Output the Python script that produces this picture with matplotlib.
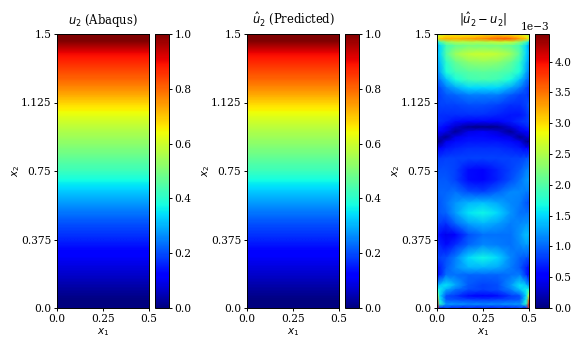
import numpy as np
import matplotlib
matplotlib.use("Agg")
import matplotlib.pyplot as plt
from matplotlib.ticker import ScalarFormatter

plt.rcParams['font.family'] = 'DejaVu Serif'
plt.rcParams['mathtext.fontset'] = 'dejavusans'

titles = [r'$u_2$ (Abaqus)', r'$\hat{u}_2$ (Predicted)', r'$|\hat{u}_2 - u_2|$']
x_ticks = [0.0, 0.25, 0.5]
x_tick_labels = ['0.0', '0.25', '0.5']
y_ticks = [0.0, 0.375, 0.75, 1.125, 1.5]
y_tick_labels = ['0.0', '0.375', '0.75', '1.125', '1.5']
cbar_ticks_u = [0.0, 0.2, 0.4, 0.6, 0.8, 1.0]
cbar_ticks_err = [0, 0.5e-3, 1e-3, 1.5e-3, 2e-3, 2.5e-3, 3e-3, 3.5e-3, 4e-3]
err_vmax = 4.45e-3

# u2 read along x2 at steps of 0.075 from 0.0 to 1.5 (no x1 variation visible)
u2_abaqus = [0.0, 0.03, 0.065, 0.095, 0.13, 0.17, 0.205, 0.25, 0.30, 0.355, 0.42,
             0.47, 0.515, 0.56, 0.61, 0.67, 0.74, 0.80, 0.85, 0.90, 1.0]
u2_predicted = [0.0, 0.03, 0.065, 0.095, 0.13, 0.17, 0.205, 0.25, 0.30, 0.355, 0.42,
                0.47, 0.515, 0.56, 0.61, 0.67, 0.74, 0.80, 0.85, 0.90, 1.0]

err_x1 = [0, .015, .05, .1, .17, .25, .33, .4, .45, .485, .5]
err_x2 = [1.5, 1.49, 1.473, 1.455, 1.435, 1.39, 1.345, 1.29, 1.25, 1.205, 1.165,
          1.11, 1.055, 1.02, .99, .965, .935, .91, .875, .82, .755, .70, .635,
          .575, .52, .46, .40, .345, .275, .22, .18, .125, .10, .065, .045, .02, 0.0]
# absolute error, units of 1e-3; rows follow err_x2, columns follow err_x1
err_rows = [
    [1.0, 1.2, 1.4, 1.5, 1.6, 1.6, 1.6, 1.5, 1.4, 1.2, 1.0],
    [2.5, 2.8, 3.0, 3.0, 3.0, 3.1, 3.2, 3.1, 3.0, 2.8, 2.5],
    [2.8, 3.1, 3.2, 3.2, 3.3, 3.4, 3.6, 3.6, 3.3, 3.1, 2.8],
    [1.5, 1.9, 2.3, 2.5, 2.5, 2.5, 2.6, 2.6, 2.3, 1.9, 1.5],
    [1.2, 1.5, 1.9, 2.1, 2.2, 2.2, 2.2, 2.1, 1.9, 1.5, 1.2],
    [1.3, 1.5, 2.0, 2.4, 2.6, 2.65, 2.6, 2.4, 2.0, 1.5, 1.3],
    [1.2, 1.4, 1.8, 2.1, 2.3, 2.35, 2.3, 2.1, 1.8, 1.4, 1.2],
    [1.1, 1.3, 1.7, 1.9, 2.0, 2.05, 2.0, 1.9, 1.7, 1.3, 1.1],
    [1.0, 1.1, 1.4, 1.7, 1.9, 1.95, 1.9, 1.7, 1.4, 1.1, 1.0],
    [.8, .9, 1.1, 1.3, 1.5, 1.5, 1.5, 1.3, 1.1, .9, .8],
    [.75, .85, .95, 1.0, 1.1, 1.1, 1.1, .95, .85, .85, .75],
    [.75, .85, .85, .85, .9, .9, .85, .75, .75, .85, .95],
    [.75, .75, .75, .75, .75, .75, .7, .65, .65, .75, .85],
    [.75, .75, .7, .6, .5, .5, .55, .65, .75, .8, .85],
    [.65, .65, .55, .3, .08, .05, .08, .35, .6, .7, .75],
    [.5, .5, .4, .1, .4, .47, .35, .08, .4, .55, .6],
    [.25, .25, .08, .45, .6, .6, .55, .4, .07, .3, .35],
    [.08, .08, .45, .6, .65, .65, .65, .6, .45, .1, .08],
    [.55, .55, .65, .7, .75, .75, .75, .7, .65, .55, .55],
    [.85, .8, .85, .85, .85, .85, .85, .85, .85, .9, .95],
    [.9, .9, .9, .85, .6, .55, .7, .85, .95, 1.1, 1.15],
    [.95, .95, .95, .85, .6, .55, .7, .9, 1.05, 1.2, 1.25],
    [.95, 1.0, 1.0, 1.05, .9, .85, 1.0, 1.15, 1.15, 1.1, 1.1],
    [.9, .95, 1.05, 1.2, 1.35, 1.4, 1.3, 1.15, 1.1, .95, .9],
    [.9, .95, 1.0, 1.25, 1.55, 1.65, 1.5, 1.2, 1.05, 1.05, 1.05],
    [.85, .8, .75, 1.0, 1.25, 1.35, 1.25, 1.1, 1.15, 1.2, 1.2],
    [.7, .6, .45, .55, .9, 1.05, 1.05, 1.05, 1.2, 1.4, 1.35],
    [.75, .7, .6, .75, 1.0, 1.15, 1.1, 1.05, 1.15, 1.25, 1.2],
    [.85, .85, .9, 1.1, 1.5, 1.65, 1.5, 1.15, 1.0, .95, .9],
    [.6, .7, .95, 1.15, 1.35, 1.35, 1.3, 1.1, .95, .7, .6],
    [.5, .7, 1.05, 1.05, 1.0, 1.0, 1.0, 1.05, 1.1, .75, .55],
    [1.2, 1.4, 1.55, 1.3, .95, .85, .9, 1.2, 1.55, 1.4, 1.1],
    [1.7, 1.6, 1.3, 1.05, .9, .85, .9, 1.1, 1.4, 1.6, 1.7],
    [2.8, 1.5, .9, .8, .6, .5, .6, .8, .9, 1.5, 2.8],
    [3.5, 1.6, .95, .9, .85, .8, .85, .9, .95, 1.6, 3.5],
    [4.0, 1.8, 1.2, 1.2, 1.15, 1.15, 1.15, 1.2, 1.2, 1.8, 4.0],
    [3.8, .6, .8, .7, .7, .7, .7, .7, .8, .6, 3.8],
]

W, H = 581, 349
fig = plt.figure(figsize=(W / 100, H / 100), dpi=100)
left_edges = [57, 247, 437]
ax_w, cb_gap, cb_w = 92, 6, 14
top, bottom = 34, 308


def style_axes(ax, title):
    ax.set_xlim(0, 0.5)
    ax.set_ylim(0, 1.5)
    ax.set_xticks(x_ticks, x_tick_labels)
    ax.set_yticks(y_ticks, y_tick_labels)
    ax.tick_params(labelsize=7.7, length=2.5, width=0.7, pad=1.5)
    ax.set_xlabel(r'$x_1$', fontsize=7.5, labelpad=2)
    ax.set_ylabel(r'$x_2$', fontsize=7.5, labelpad=-1)
    ax.set_title(title, fontsize=8.3, pad=7.5)


for i, left in enumerate(left_edges):
    ax = fig.add_axes([left / W, 1 - bottom / H, ax_w / W, (bottom - top) / H])
    cax = fig.add_axes([(left + ax_w + cb_gap) / W, 1 - bottom / H, cb_w / W, (bottom - top) / H])
    if i < 2:
        field = u2_abaqus if i == 0 else u2_predicted
        im = ax.imshow(np.array(field)[:, None], origin='lower', aspect='auto',
                       extent=[0, 0.5, 0, 1.5], cmap='jet', vmin=0, vmax=1,
                       interpolation='bilinear')
        cb = fig.colorbar(im, cax=cax, ticks=cbar_ticks_u)
    else:
        z = np.array(err_rows) * 1e-3
        im = ax.pcolormesh(err_x1, err_x2, z, shading='gouraud', cmap='jet',
                           vmin=0, vmax=err_vmax)
        cb = fig.colorbar(im, cax=cax, ticks=cbar_ticks_err)
        cb.formatter = ScalarFormatter()
        cb.formatter.set_powerlimits((-3, -3))
        cb.update_ticks()
        cax.yaxis.get_offset_text().set_fontsize(7.7)
    cax.tick_params(labelsize=7.7, length=2.5, width=0.7, pad=1.5)
    cb.outline.set_linewidth(0.7)
    style_axes(ax, titles[i])
    for s in ax.spines.values():
        s.set_linewidth(0.7)

fig.savefig('out.png', dpi=100)
